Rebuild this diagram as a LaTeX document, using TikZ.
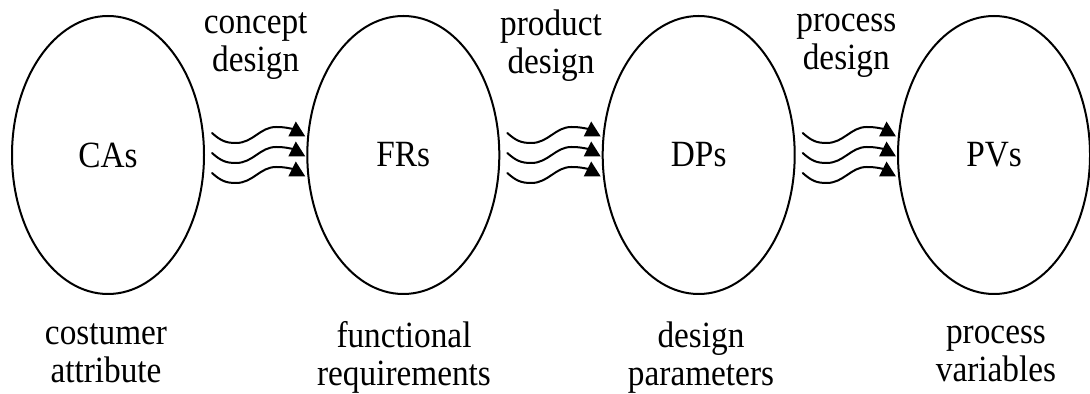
\documentclass[tikz,border=0pt]{standalone}
\usepackage{fontspec}
\setmainfont{Liberation Serif}[FakeStretch=0.9]
\usetikzlibrary{shapes.geometric,calc}

\tikzset{
  domainbox/.style={draw, ellipse, line width=1pt, inner sep=0pt,
    minimum width=96pt, minimum height=139pt,
    font=\fontsize{18.5}{19}\selectfont},
  labeltext/.style={align=center, inner sep=0pt,
    font=\fontsize{18.5}{19}\selectfont,
    execute at begin node=\strut, execute at end node=\strut},
  flowline/.style={line width=1pt, line cap=round},
  flowhead/.style={fill=black}
}

% one wavy mapping arrow from #1 to #2, with its head at #2
\newcommand\wavearrow[2]{%
  \draw[flowline] (#1) .. controls +(9,8) and +(-10,0) .. ++(24,10)
    .. controls +(17,0) and +(-16,0) .. ++(40,-16)
    .. controls +(9,0) and +(-6,-1) .. (#2);
  \fill[flowhead] (#2) ++(-5,7.5) -- ++(7.5,-15) -- ++(9.5,15) -- cycle;}

\begin{document}
\begin{tikzpicture}[x=0.5pt,y=-0.5pt]
  \useasboundingbox (0,0) rectangle (1090,394);

  % the four design domains
  \node[domainbox] (ca) at (108,155)   {CAs};
  \node[domainbox] (fr) at (403.3,155) {FRs};
  \node[domainbox] (dp) at (698.7,155) {DPs};
  \node[domainbox] (pv) at (994,155)   {PVs};

  % mappings between neighbouring domains
  \foreach \a/\b in {ca/fr, fr/dp, dp/pv} {
    \foreach \dy in {-22,-2,18} {
      \coordinate (s) at ([shift={(7,\dy)}]\a.east);
      \coordinate (e) at ([shift={(-13,\dy-4)}]\b.west);
      \wavearrow{s}{e}
    }
  }

  % names of the mappings
  \node[labeltext] (m1) at (255.7,47.5) {concept\\design};
  \node[labeltext] (m2) at (551,47.5)   {product\\design};
  \node[labeltext] (m3) at (846.3,47.5) {process\\design};

  % names of the domains
  \node[labeltext] (l1) at (106,359)   {costumer\\attribute};
  \node[labeltext] (l2) at (404,359)   {functional\\requirements};
  \node[labeltext] (l3) at (701,359)   {design\\parameters};
  \node[labeltext] (l4) at (996,359)   {process\\variables};
\end{tikzpicture}
\end{document}
